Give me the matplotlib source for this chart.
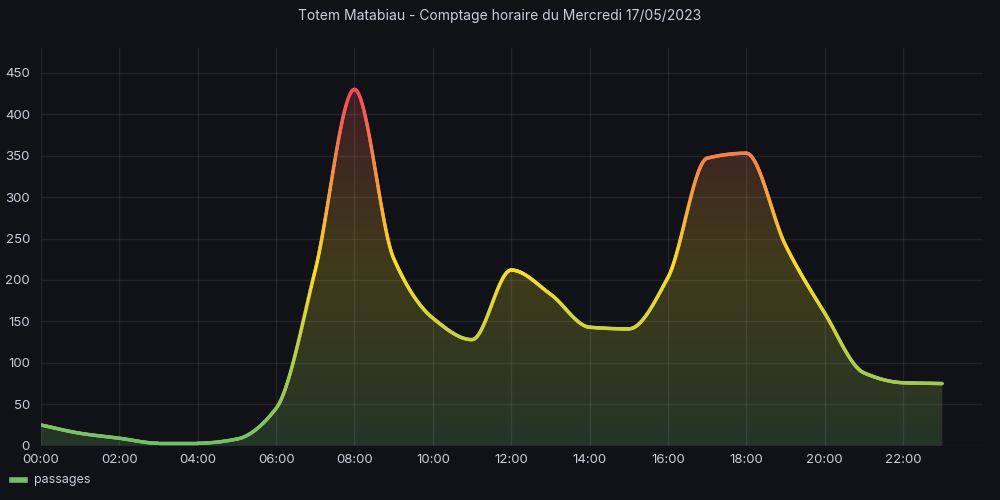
import numpy as np
import matplotlib
matplotlib.use("Agg")
import matplotlib.pyplot as plt
from matplotlib.collections import LineCollection
from matplotlib.colors import LinearSegmentedColormap, Normalize
from matplotlib.lines import Line2D

plt.rcParams['font.family'] = ['Inter', 'DejaVu Sans']

# hourly counts
hours = list(range(24))
passages = [25, 15, 9, 3, 3, 8, 45, 212, 430, 226, 154, 128,
            212, 183, 143, 141, 203, 347, 353, 242, 160, 88, 76, 75]
tick_hours = list(range(0, 24, 2))
tick_labels = [f"{h:02d}:00" for h in tick_hours]
title = "Totem Matabiau - Comptage horaire du Mercredi 17/05/2023"
series_name = "passages"

BG = "#111217"
TXT = "#ccccdc"
cmap = LinearSegmentedColormap.from_list("gyr", ["#73BF69", "#FADE2A", "#F2495C"])


def smooth(x, y, n=40):
    # monotone cubic (Fritsch-Carlson), like grafana's smooth line style
    x = np.asarray(x, float)
    y = np.asarray(y, float)
    h = np.diff(x)
    d = np.diff(y) / h
    m = np.zeros_like(y)
    m[0], m[-1] = d[0], d[-1]
    for i in range(1, len(y) - 1):
        if d[i - 1] * d[i] > 0:
            m[i] = 2 / (1 / d[i - 1] + 1 / d[i])
    xs, ys = [], []
    for i in range(len(x) - 1):
        t = np.linspace(0, 1, n, endpoint=False)
        h00 = 2 * t**3 - 3 * t**2 + 1
        h10 = t**3 - 2 * t**2 + t
        h01 = -2 * t**3 + 3 * t**2
        h11 = t**3 - t**2
        xs.append(x[i] + t * h[i])
        ys.append(h00 * y[i] + h10 * h[i] * m[i] + h01 * y[i + 1] + h11 * h[i] * m[i + 1])
    xs.append([x[-1]])
    ys.append([y[-1]])
    return np.concatenate(xs), np.concatenate(ys)


fig = plt.figure(figsize=(10, 5), dpi=100, facecolor=BG)
ax = fig.add_axes([0.041, 0.1086, 0.942, 0.7954])
ax.set_facecolor(BG)

xs, ys = smooth(hours, passages)
norm = Normalize(min(passages), max(passages))

# gradient fill under the curve
ymax = 480
grad = np.linspace(0, ymax, 300).reshape(-1, 1)
img = ax.imshow(grad, cmap=cmap, norm=norm, origin="lower", aspect="auto",
                extent=[0, 23, 0, ymax], alpha=0.2, zorder=1)
poly = ax.fill_between(xs, 0, ys, color="none", lw=0)
img.set_clip_path(poly.get_paths()[0], transform=ax.transData)

# line colored by value
pts = np.column_stack([xs, ys]).reshape(-1, 1, 2)
segs = np.concatenate([pts[:-1], pts[1:]], axis=1)
lc = LineCollection(segs, cmap=cmap, norm=norm, linewidth=2.5, capstyle="round", zorder=3)
lc.set_array((ys[:-1] + ys[1:]) / 2)
ax.add_collection(lc)

ax.set_xlim(0, 24.04)
ax.set_ylim(0, ymax)
ax.set_xticks(tick_hours, tick_labels)
ax.set_yticks(range(0, 451, 50))
ax.grid(True, color="#ccccdc", alpha=0.1, lw=1)
ax.tick_params(colors=TXT, length=0, labelsize=9.5, pad=6)
ax.tick_params(axis="y", pad=8)
for s in ax.spines.values():
    s.set_visible(False)

fig.text(0.5, 0.968, title, color=TXT, fontsize=10, ha="center", va="center")
fig.add_artist(Line2D([0.012, 0.025], [0.04, 0.04], color="#73BF69", lw=4,
                      transform=fig.transFigure))
fig.text(0.034, 0.04, series_name, color=TXT, fontsize=9, va="center")

fig.savefig("out.png", dpi=100, facecolor=BG)
